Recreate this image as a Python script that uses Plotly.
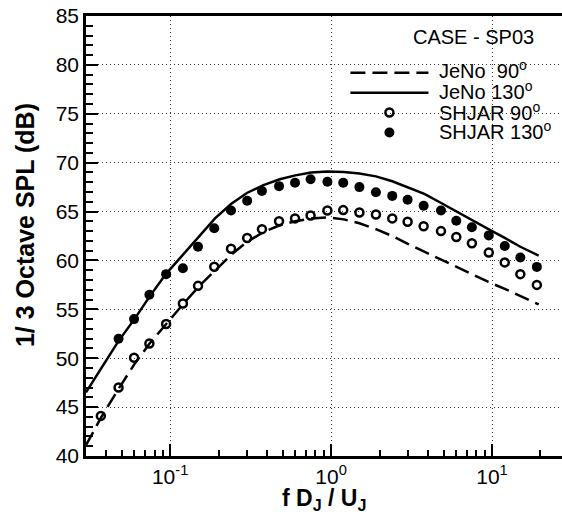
import math
import plotly.graph_objects as go

# ---------------- data ----------------
freq_jeno = [0.030, 0.0371, 0.0475, 0.060, 0.0745, 0.094, 0.12, 0.15, 0.19, 0.24,
             0.30, 0.38, 0.48, 0.60, 0.75, 0.95, 1.2, 1.5, 1.9, 2.4,
             3.0, 3.8, 4.8, 6.0, 7.5, 9.5, 12.0, 15.0, 19.5]
jeno_90 = [41.1, 43.9, 46.8, 49.4, 51.5, 53.5, 55.5, 57.3, 59.0, 60.6,
           61.9, 62.9, 63.6, 64.0, 64.3, 64.4, 64.2, 63.8, 63.2, 62.5,
           61.7, 60.9, 60.1, 59.4, 58.6, 57.8, 57.1, 56.4, 55.5]
jeno_130 = [46.5, 48.9, 51.7, 54.0, 56.3, 58.6, 60.6, 62.4, 64.3, 65.8,
            66.9, 67.7, 68.3, 68.7, 69.0, 69.1, 69.05, 68.9, 68.6, 68.1,
            67.5, 66.8, 65.9, 65.0, 64.1, 63.2, 62.3, 61.4, 60.5]

freq_shjar_90 = [0.0371, 0.0478, 0.0597, 0.0743, 0.0944, 0.120, 0.149, 0.188, 0.239, 0.301,
                 0.372, 0.475, 0.597, 0.746, 0.949, 1.19, 1.50, 1.90, 2.40, 2.99,
                 3.76, 4.82, 6.0, 7.5, 9.55, 12.0, 15.0, 19.0]
shjar_90 = [44.1, 47.0, 50.05, 51.5, 53.5, 55.6, 57.4, 59.35, 61.2, 62.3,
            63.2, 64.0, 64.3, 64.6, 65.1, 65.15, 64.9, 64.7, 64.3, 63.95,
            63.5, 63.0, 62.4, 61.75, 60.8, 59.8, 58.6, 57.5]

freq_shjar_130 = [0.0478, 0.0597, 0.0743, 0.0944, 0.120, 0.149, 0.188, 0.239, 0.301,
                  0.372, 0.475, 0.597, 0.746, 0.949, 1.19, 1.50, 1.90, 2.40, 2.99,
                  3.76, 4.82, 6.0, 7.5, 9.55, 12.0, 15.0, 19.0]
shjar_130 = [52.0, 54.0, 56.5, 58.6, 59.2, 61.4, 63.3, 65.1, 66.1,
             67.1, 67.6, 67.95, 68.3, 68.05, 67.95, 67.5, 66.97, 66.6, 66.2,
             65.6, 65.1, 64.06, 63.4, 62.56, 61.47, 60.3, 59.34]

series_labels = ["JeNo\u00a0\u00a090<sup>o</sup>", "JeNo 130<sup>o</sup>",
                 "SHJAR 90<sup>o</sup>", "SHJAR 130<sup>o</sup>"]
x_tickvals = [0.1, 1, 10]
x_ticktext = ["10<sup>-1</sup>", "10<sup>0</sup>", "10<sup>1</sup>"]
y_tickvals = [40, 45, 50, 55, 60, 65, 70, 75, 80, 85]

FONT = "Liberation Sans, Arial, Helvetica, sans-serif"

fig = go.Figure()
fig.add_trace(go.Scatter(x=freq_jeno, y=jeno_90, mode="lines", name=" ",
                         line=dict(color="black", width=2.5, dash="15px,7px")))
fig.add_trace(go.Scatter(x=freq_jeno, y=jeno_130, mode="lines", name=" ",
                         line=dict(color="black", width=2.5)))
fig.add_trace(go.Scatter(x=freq_shjar_90, y=shjar_90, mode="markers", name=" ",
                         marker=dict(symbol="circle-open", size=8, color="black",
                                     line=dict(color="black", width=2.5))))
fig.add_trace(go.Scatter(x=freq_shjar_130, y=shjar_130, mode="markers", name=" ",
                         marker=dict(symbol="circle", size=10, color="black")))

fig.update_layout(
    width=562, height=516,
    margin=dict(l=86, r=0, t=16, b=60),
    paper_bgcolor="white", plot_bgcolor="white",
    font=dict(family=FONT, size=21, color="black"),
    showlegend=True,
    legend=dict(x=0.545, y=0.905, xanchor="left", yanchor="top",
                bgcolor="rgba(0,0,0,0)", itemwidth=78,
                font=dict(size=13), tracegroupgap=0),
)
fig.update_xaxes(
    type="log", range=[math.log10(0.030), 1.435],
    tickvals=x_tickvals, ticktext=x_ticktext,
    ticks="inside", ticklen=12, tickwidth=2, tickcolor="black",
    showline=True, linecolor="black", linewidth=2.5, mirror=True,
    showgrid=True, gridcolor="#333", gridwidth=1, griddash="1px,3px",
    zeroline=False,
    minor=dict(dtick="D1", ticks="inside", ticklen=6, tickwidth=1.5,
               tickcolor="black", showgrid=False),
    tickfont=dict(size=21),
)
fig.update_yaxes(
    range=[40, 85], tickvals=y_tickvals,
    ticks="inside", ticklen=12, tickwidth=2, tickcolor="black",
    showline=True, linecolor="black", linewidth=2.5, mirror=False,
    showgrid=True, gridcolor="#333", gridwidth=1, griddash="1px,3px",
    zeroline=False,
    minor=dict(dtick=1, ticks="inside", ticklen=7, tickwidth=1.5,
               tickcolor="black", showgrid=False),
    tickfont=dict(size=21),
)

# legend labels (texts beside the legend samples)
label_rows = [0.879, 0.830, 0.784, 0.739]
for lab, yy in zip(series_labels, label_rows):
    fig.add_annotation(text=lab, xref="paper", yref="paper", x=0.737, y=yy,
                       xanchor="left", yanchor="middle", showarrow=False,
                       font=dict(size=20))

fig.add_annotation(text="<b>1/ 3 Octave SPL (dB)</b>", textangle=-90,
                   xref="paper", yref="paper", x=-0.128, y=0.525,
                   xanchor="center", yanchor="middle", showarrow=False,
                   font=dict(size=25))
fig.add_annotation(text="<b>f D<sub>J</sub> / U<sub>J</sub></b>",
                   xref="paper", yref="paper", x=0.5, y=-0.098,
                   xanchor="center", yanchor="middle", showarrow=False,
                   font=dict(size=23))
fig.add_annotation(text="CASE - SP03",
                   xref="paper", yref="paper", x=0.945, y=0.952,
                   xanchor="right", yanchor="middle", showarrow=False,
                   font=dict(size=20))

fig.write_html("out.html")
